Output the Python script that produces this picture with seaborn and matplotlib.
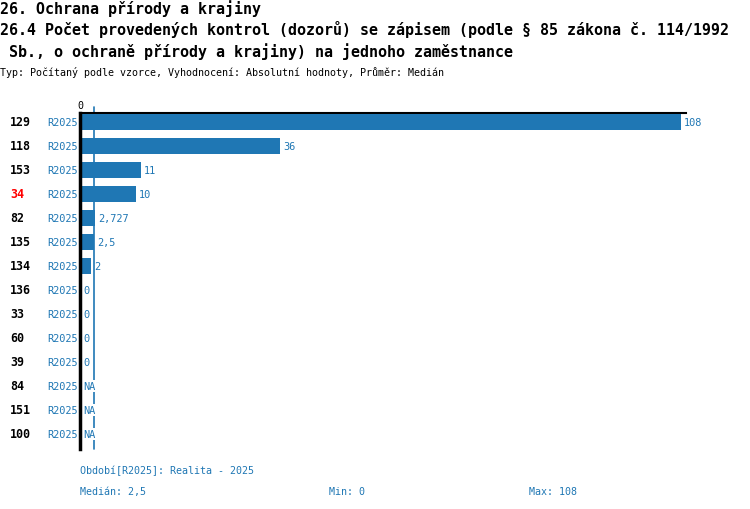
import numpy as np
import pandas as pd
import matplotlib
matplotlib.use("Agg")
import matplotlib.pyplot as plt
import matplotlib.transforms as mtransforms
import seaborn as sns

# ---- data ----
codes = ["129", "118", "153", "34", "82", "135", "134", "136", "33", "60", "39", "84", "151", "100"]
values = [108, 36, 11, 10, 2.727, 2.5, 2, 0, 0, 0, 0, np.nan, np.nan, np.nan]
period = "R2025"
highlight = "34"
title1 = "26. Ochrana přírody a krajiny"
title2 = "26.4 Počet provedených kontrol (dozorů) se zápisem (podle § 85 zákona č. 114/1992"
title3 = " Sb., o ochraně přírody a krajiny) na jednoho zaměstnance"
subtitle = "Typ: Počítaný podle vzorce, Vyhodnocení: Absolutní hodnoty, Průměr: Medián"
footer1 = "Období[R2025]: Realita - 2025"

BLUE = "#1f77b4"
sns.set_theme(style="white")
plt.rcParams["font.family"] = ["DejaVu Sans Mono", "DejaVu Sans"]
plt.rcParams["text.color"] = "black"
plt.rcParams["xtick.color"] = "black"

df = pd.DataFrame({"code": codes, "value": values})
vals = np.array(values, dtype=float)
median = np.nanmedian(vals)
vmin = np.nanmin(vals)
vmax = np.nanmax(vals)

def fmt(v):
    return f"{v:g}".replace(".", ",")

fig = plt.figure(figsize=(7.5, 5.1), dpi=100)
ax = fig.add_axes([80 / 750, 60 / 510, 606 / 750, 336 / 510])

sns.barplot(data=df, x="value", y="code", order=codes, orient="h",
            color=BLUE, saturation=1, width=0.67, linewidth=0, ax=ax, zorder=3)

n = len(codes)
ax.set_ylim(n - 0.375, -0.375)
ax.set_xlim(0, vmax * 606 / 601)
ax.set_xlabel("")
ax.set_ylabel("")
ax.set_yticks([])
ax.xaxis.tick_top()
ax.set_xticks([0])
ax.set_xticklabels(["0"], fontsize=7.2, color="black")
ax.tick_params(axis="x", length=0, pad=2)
for s in ["right", "bottom"]:
    ax.spines[s].set_visible(False)
ax.spines["left"].set_color("black")
ax.spines["left"].set_linewidth(2.5)
ax.spines["left"].set_zorder(6)
ax.spines["top"].set_color("black")
ax.spines["top"].set_linewidth(1.5)
ax.grid(False)

# median line
ax.plot([median, median], [-0.625, n - 0.375], color=BLUE, lw=1.2,
        clip_on=False, zorder=1)

# labels
trans = mtransforms.blended_transform_factory(fig.transFigure, ax.transData)
for i, (c, v) in enumerate(zip(codes, values)):
    ax.text(10 / 750, i, c, transform=trans, ha="left", va="center",
            fontsize=8.4, fontweight="bold",
            color="red" if c == highlight else "black")
    ax.text(78 / 750, i, period, transform=trans, ha="right", va="center",
            fontsize=7.4, color=BLUE)
    if np.isnan(v):
        ax.annotate("NA", (0, i), xytext=(2.5, 0), textcoords="offset points",
                    ha="left", va="center", fontsize=7.4, color=BLUE, zorder=5,
                    bbox=dict(facecolor="white", edgecolor="none", pad=0.6))
    else:
        ax.annotate(fmt(v), (v, i), xytext=(2.2, 0), textcoords="offset points",
                    ha="left", va="center", fontsize=7.4, color=BLUE, zorder=5)

# titles
fig.text(0, 1 - 9 / 510, title1, ha="left", va="center", fontsize=10.8, fontweight="bold", color="black")
fig.text(0, 1 - 30 / 510, title2, ha="left", va="center", fontsize=10.8, fontweight="bold", color="black")
fig.text(0, 1 - 52 / 510, title3, ha="left", va="center", fontsize=10.8, fontweight="bold", color="black")
fig.text(0, 1 - 73 / 510, subtitle, ha="left", va="center", fontsize=7.2, color="black")

# footer
fig.text(80 / 750, 1 - 471 / 510, footer1, ha="left", va="center", fontsize=7.2, color=BLUE)
fig.text(80 / 750, 1 - 492 / 510, "Medián: " + fmt(median), ha="left", va="center", fontsize=7.2, color=BLUE)
fig.text(329 / 750, 1 - 492 / 510, "Min: " + fmt(vmin), ha="left", va="center", fontsize=7.2, color=BLUE)
fig.text(529 / 750, 1 - 492 / 510, "Max: " + fmt(vmax), ha="left", va="center", fontsize=7.2, color=BLUE)

fig.savefig("out.png", dpi=100, facecolor="white")
